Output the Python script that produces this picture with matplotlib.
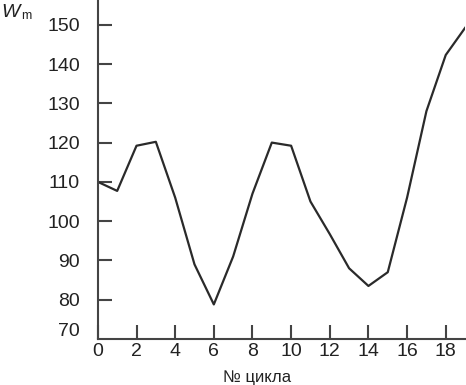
import matplotlib
matplotlib.use("Agg")
import matplotlib.pyplot as plt

plt.rcParams['font.family'] = ['Liberation Sans', 'DejaVu Sans']

cycles = [0, 1, 2, 3, 4, 5, 6, 7, 8, 9, 10, 11, 12, 13, 14, 15, 16, 17, 18, 19]
wm = [110, 107.7, 119.2, 120.2, 106, 89, 78.8, 91, 107, 120, 119.2, 105, 96.7, 88, 83.5, 87, 106, 128, 142.3, 149.2]
xticks = [0, 2, 4, 6, 8, 10, 12, 14, 16, 18]
yticks = [80, 90, 100, 110, 120, 130, 140, 150]
ytick_labels_extra = [70]

fig = plt.figure(figsize=(4.66, 3.85), dpi=100)
ax = fig.add_axes([0.210, 0.1195, 0.788, 0.8805])
col = '#2a2a2a'
ax.plot(cycles, wm, color=col, lw=1.6)
ax.set_xlim(0, 19)
ax.set_ylim(70, 156.3)
for s in ['top', 'right']:
    ax.spines[s].set_visible(False)
for s in ['left', 'bottom']:
    ax.spines[s].set_color('#444444')
    ax.spines[s].set_linewidth(1.5)
ax.set_xticks(xticks)
ax.set_xticklabels([str(t) for t in xticks])
ax.set_yticks(yticks)
ax.set_yticklabels([str(t) for t in yticks])
ax.tick_params(axis='both', direction='in', length=10, width=1.5, color='#444444',
               labelsize=14, labelcolor='#222222')
ax.tick_params(axis='y', pad=13)
ax.tick_params(axis='x', pad=3)
for v in ytick_labels_extra:
    ax.text(-0.05, v + 2, str(v), transform=ax.get_yaxis_transform(), ha='right', va='center',
            fontsize=14, color='#222222')
fig.text(0.002, 0.967, 'W', fontsize=14, style='italic', color='#222222', ha='left', va='center')
fig.text(0.046, 0.958, 'm', fontsize=9, color='#222222', ha='left', va='center')
fig.text(0.552, 0.02, '№ цикла', fontsize=12, color='#222222', ha='center', va='center')
fig.savefig('out.png', dpi=100, facecolor='white')
